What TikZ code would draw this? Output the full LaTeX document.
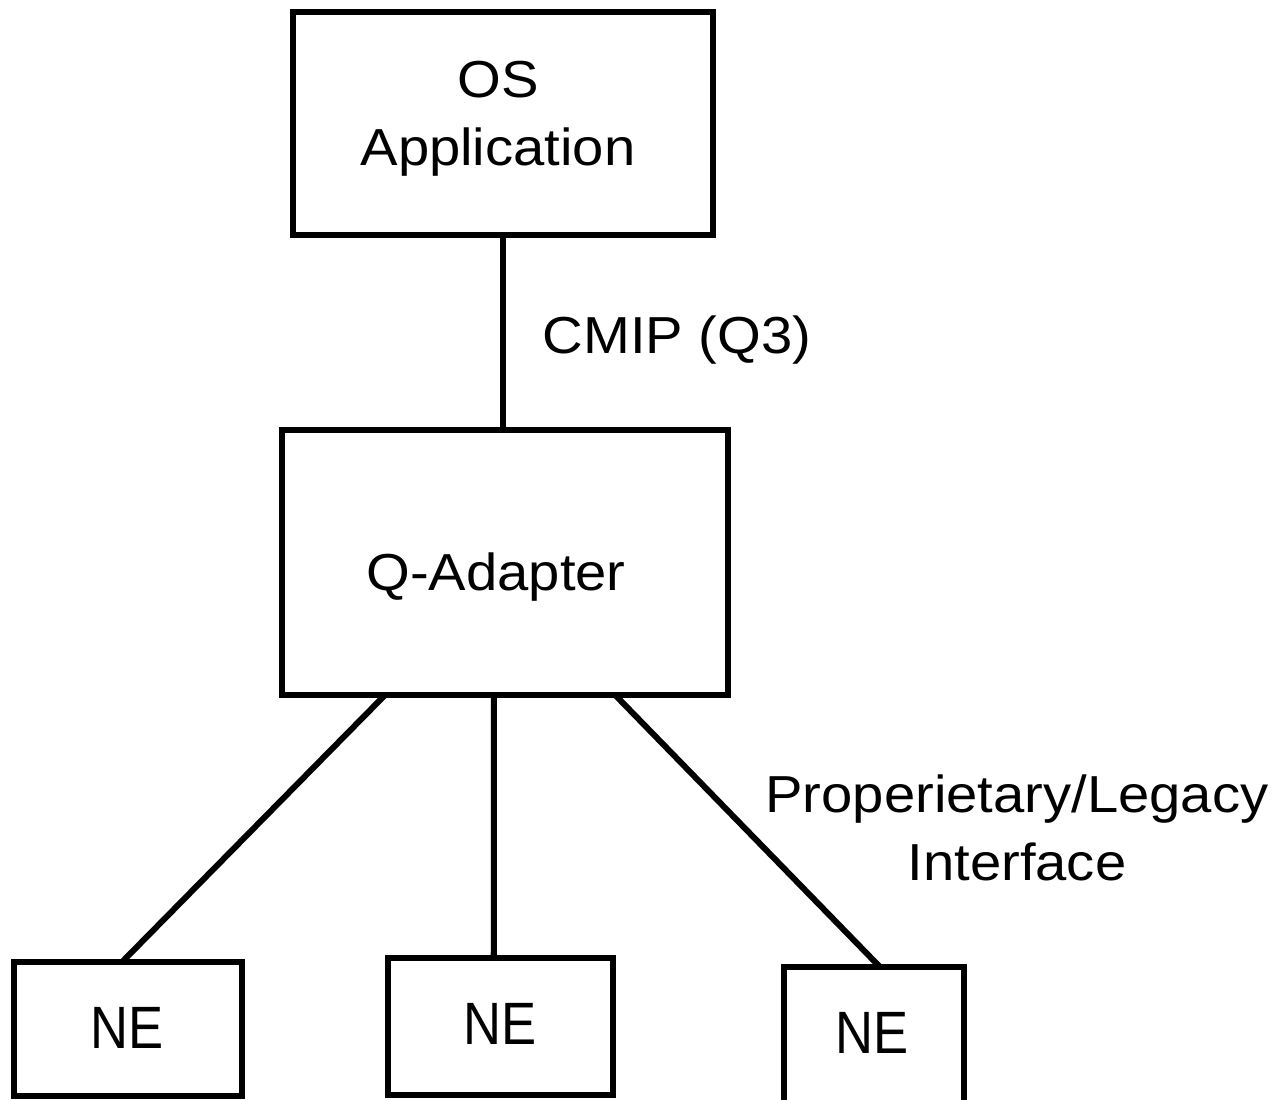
\documentclass[tikz,border=0pt]{standalone}
\usepackage{fontspec}
\setmainfont{Liberation Sans}[FakeStretch=1.08]
\newfontfamily\nefont{Liberation Sans}[FakeStretch=0.88]
\usetikzlibrary{calc}

\begin{document}
\begin{tikzpicture}[x=0.01cm, y=-0.01cm,
  box/.style={draw=black, line width=0.06cm, fill=white, rectangle,
              inner sep=0pt, outer sep=0pt},
  wire/.style={draw=black, line width=0.06cm},
  lbl/.style={inner sep=0pt, align=center,
              font=\fontsize{14.8pt}{19.06pt}\selectfont},
  nelbl/.style={inner sep=0pt, anchor=base,
                font=\nefont\fontsize{17pt}{20pt}\selectfont}]
  \useasboundingbox (0,0) rectangle (1284,1100);
  \clip (0,0) rectangle (1284,1100);

  % boxes
  \node[box, minimum width=4.2cm,  minimum height=2.23cm] (os)  at (503,123.5) {};
  \node[box, minimum width=4.46cm, minimum height=2.65cm] (qa)  at (505,562.5) {};
  \node[box, minimum width=2.28cm, minimum height=1.34cm] (ne1) at (128,1029) {};
  \node[box, minimum width=2.25cm, minimum height=1.37cm] (ne2) at (500.5,1026.5) {};
  \node[box, minimum width=1.80cm, minimum height=1.39cm] (ne3) at (874,1036.5) {};

  % box texts (base anchor = baseline of the last line)
  \node[lbl, anchor=base] (ostxt) at (498,165) {OS\\Application};
  \node[lbl, anchor=base] (qatxt) at (496,590) {Q-Adapter};
  \node[nelbl] (ne1txt) at (127,1048) {NE};
  \node[nelbl] (ne2txt) at (500,1044) {NE};
  \node[nelbl] (ne3txt) at (872,1053) {NE};

  % connectors
  \draw[wire] (os.south) -- (os.south |- qa.north);
  \draw[wire] ($(qa.south west)!0.231!(qa.south east)$) -- ($(ne1.north west)!0.474!(ne1.north east)$);
  \draw[wire] ($(qa.south west)!0.475!(qa.south east)$) -- ($(ne2.north west)!0.47!(ne2.north east)$);
  \draw[wire] ($(qa.south west)!0.747!(qa.south east)$) -- ($(ne3.north west)!0.533!(ne3.north east)$);

  % interface labels
  \node[lbl, anchor=base west] (cmip) at (542,353) {CMIP (Q3)};
  \node[lbl, anchor=base] (legacy) at (1017,880) {Properietary/Legacy\\Interface};
\end{tikzpicture}
\end{document}
